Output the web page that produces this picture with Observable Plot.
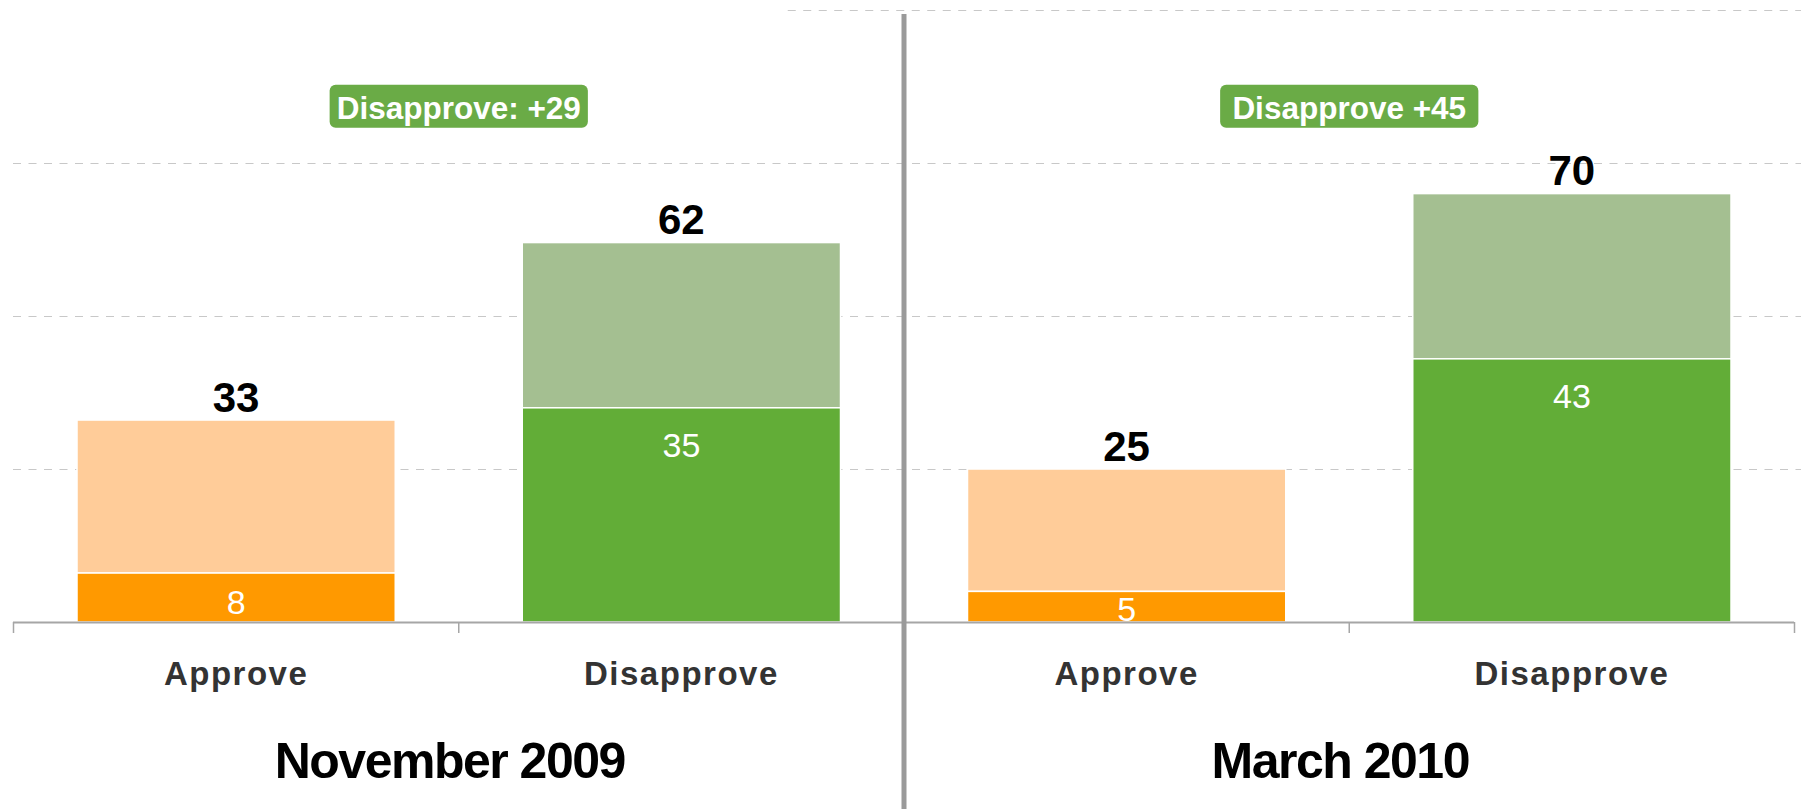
<!DOCTYPE html>
<html>
<head>
<meta charset="utf-8">
<script src="https://cdn.jsdelivr.net/npm/d3@7"></script>
<script src="https://cdn.jsdelivr.net/npm/@observablehq/plot@0.6"></script>
<style>
  html, body { margin: 0; padding: 0; background: #ffffff; }
</style>
</head>
<body>
<div id="chart"></div>
<script>
// ---- Data ----
const periods = ["November 2009", "March 2010"];
const categories = ["Approve", "Disapprove"];
// totals per period: [Approve, Disapprove]
const totalValues = [[33, 62], [25, 70]];
// "strongly" share per period: [Approve, Disapprove]
const strongValues = [[8, 35], [5, 43]];
const badgeLabels = ["Disapprove: +29", "Disapprove +45"];
const gridValues = [25, 50, 75];
const topGrid = [{from: 1.74, to: 4, value: 100}];
const boundaries = [0, 1, 2, 3, 4];

const colorKeys = ["Approve-strong", "Approve-light", "Disapprove-strong", "Disapprove-light"];
const colorRange = ["#FF9900", "#FFCC99", "#62AD37", "#A4BF91"];

const rows = periods.flatMap((p, pi) => categories.map((c, ci) => ({
  i: pi * 2 + ci,
  period: p,
  category: c,
  total: totalValues[pi][ci],
  strong: strongValues[pi][ci]
})));

const FONT = "'Liberation Sans', Arial, Helvetica, sans-serif";

const chart = Plot.plot({
  width: 1801,
  height: 809,
  marginTop: 10,
  marginBottom: 187,
  marginLeft: 13,
  marginRight: 7,
  x: {domain: [0, 4], axis: null},
  y: {domain: [0, 100], axis: null},
  color: {domain: colorKeys, range: colorRange},
  style: {fontFamily: FONT, background: "white", overflow: "visible"},
  marks: [
    Plot.ruleY(gridValues, {stroke: "#c8c8c8", strokeWidth: 1.2, strokeDasharray: "8,7.5", insetRight: -7}),
    Plot.ruleY(topGrid, {y: "value", x1: "from", x2: "to", stroke: "#c8c8c8", strokeWidth: 1.2, strokeDasharray: "8,7.5", insetRight: -7}),
    Plot.rectY(rows, {
      x1: d => d.i, x2: d => d.i + 1,
      y1: d => d.strong, y2: d => d.total,
      fill: d => d.category + "-light",
      insetLeft: 64, insetRight: 63,
      stroke: "white", strokeWidth: 1.5
    }),
    Plot.rectY(rows, {
      x1: d => d.i, x2: d => d.i + 1,
      y1: 0, y2: d => d.strong,
      fill: d => d.category + "-strong",
      insetLeft: 64, insetRight: 63,
      stroke: "white", strokeWidth: 1.5
    }),
    Plot.ruleY([0], {stroke: "#a6a6a6", strokeWidth: 2}),
    Plot.axisX({ticks: boundaries, tickSize: 11, tickFormat: () => "", stroke: "#a6a6a6", strokeWidth: 1.5}),
    Plot.ruleX([2], {stroke: "#9a9a9a", strokeWidth: 5, insetTop: 4, insetBottom: -187}),
    // totals above bars
    Plot.text(rows, {
      x: d => d.i + 0.5, y: d => d.total,
      text: d => String(d.total),
      lineAnchor: "bottom", dy: -9,
      fontSize: 42, fontWeight: "bold", fill: "black"
    }),
    // strongly values inside bars
    Plot.text(rows, {
      x: d => d.i + 0.5, y: d => d.strong - Math.min(6.2, d.strong * 0.6),
      text: d => String(d.strong),
      fontSize: 34, fill: "white"
    }),
    // category labels
    Plot.text(rows, {
      x: d => d.i + 0.5, frameAnchor: "bottom", dy: 62,
      text: d => d.category,
      fontSize: 33, fontWeight: "bold", fill: "#333333"
    }),
    // period labels
    Plot.text(periods, {
      x: (d, i) => i * 2 + 1, frameAnchor: "bottom", dy: 155, dx: -9,
      text: d => d,
      fontSize: 50, fontWeight: "bold", fill: "black"
    }),
    // badges
    Plot.text(badgeLabels, {
      x: (d, i) => i * 2 + 1, frameAnchor: "top", dy: 86,
      text: d => d,
      fontSize: 31.5, fontWeight: "bold", fill: "white"
    })
  ]
});

document.getElementById("chart").appendChild(chart);

const allTexts = Array.from(chart.querySelectorAll("text"));
const byContent = list => allTexts.filter(t => list.includes(t.textContent));

// letter spacing tweaks
byContent(categories).forEach(t => t.style.letterSpacing = "1.5px");
byContent(periods).forEach(t => t.style.letterSpacing = "-1.5px");

// badge backgrounds derived from the text boxes
const badgeTexts = byContent(badgeLabels);
const boxes = badgeTexts.map(t => t.getBBox());
const maxW = d3.max(boxes, b => b.width);
badgeTexts.forEach((t, k) => {
  const b = boxes[k];
  const cx = b.x + b.width / 2;
  const w = maxW + 14;
  const r = document.createElementNS("http://www.w3.org/2000/svg", "rect");
  r.setAttribute("x", cx - w / 2);
  r.setAttribute("y", b.y - 5);
  r.setAttribute("width", w);
  r.setAttribute("height", b.height + 7);
  r.setAttribute("rx", 6);
  r.setAttribute("fill", "#6AAB46");
  r.setAttribute("stroke", "none");
  const tr = t.getAttribute("transform");
  if (tr) r.setAttribute("transform", tr);
  t.parentNode.insertBefore(r, t);
});
</script>
</body>
</html>
